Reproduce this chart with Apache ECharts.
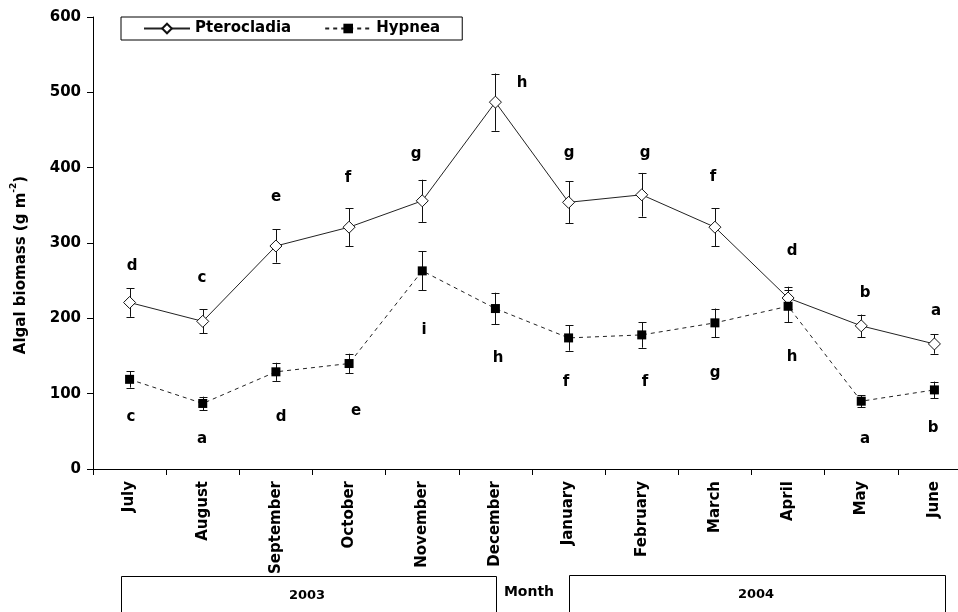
<!DOCTYPE html>
<html><head><meta charset="utf-8">
<script src="https://cdn.jsdelivr.net/npm/echarts@6/dist/echarts.min.js"></script>
<style>html,body{margin:0;padding:0;background:#fff;overflow:hidden;width:958px;height:612px}#c{width:980px;height:612px}</style>
</head><body><div id="c"></div>
<script>
const months = ['July','August','September','October','November','December','January','February','March','April','May','June'];
const pterocladia = [221,196,296,321,356,487,354,364,321,227,190,166];
const pterocladiaErr = [19,16,22,25,28,38,28,29,25,15,15,13];
const hypnea = [119,87,129,140,263,213,174,178,194,216,90,105];
const hypneaErr = [11,9,12,13,26,21,17,17,19,21,8,11];
const pteroLetters = ['d','c','e','f','g','h','g','g','f','d','b','a'];
const pteroLetterY = [270,254,361,386,418,512,420,420,387,289,233,210];
const pteroLetterX = [0.03,0.99,2.0,2.99,3.91,5.37,6.0,7.04,7.97,9.06,10.05,11.02];
const hypneaLetters = ['c','a','d','e','i','h','f','f','g','h','a','b'];
const hypneaLetterY = [69,40,69,77,185,148,115,115,127,149,40,54];
const hypneaLetterX = [0.02,0.99,2.07,3.09,4.03,5.03,5.97,7.05,8.0,9.06,10.05,10.98];
const years = ['2003','2004'];
const axisTitle = 'Algal biomass (g m{sup|-2})';
const monthTitle = 'Month';

const FONT = 'DejaVu Sans';
const INK = '#000';

function errSeries(vals, errs) {
  return {
    type: 'custom', xAxisIndex: 0, yAxisIndex: 0, z: 1, silent: true,
    data: vals.map((v, i) => [i, v - errs[i], v + errs[i]]),
    renderItem(params, api) {
      const lo = api.coord([api.value(0), api.value(1)]);
      const hi = api.coord([api.value(0), api.value(2)]);
      const x = Math.round(lo[0]) + 0.5, w = 4;
      const st = { stroke: '#111', lineWidth: 1 };
      return { type: 'group', children: [
        { type: 'line', shape: { x1: x, y1: lo[1], x2: x, y2: hi[1] }, style: st },
        { type: 'line', shape: { x1: x - w, y1: Math.round(lo[1]) + 0.5, x2: x + w, y2: Math.round(lo[1]) + 0.5 }, style: st },
        { type: 'line', shape: { x1: x - w, y1: Math.round(hi[1]) + 0.5, x2: x + w, y2: Math.round(hi[1]) + 0.5 }, style: st }
      ] };
    }
  };
}
function letterSeries(letters, xs, ys) {
  return {
    type: 'custom', xAxisIndex: 1, yAxisIndex: 0, silent: true, z: 5,
    data: letters.map((l, i) => [xs[i], ys[i], i]),
    renderItem(params, api) {
      const p = api.coord([api.value(0), api.value(1)]);
      return { type: 'text', x: Math.round(p[0]), y: Math.round(p[1]),
        style: { text: letters[api.value(2)], align: 'center', verticalAlign: 'middle',
          fontFamily: FONT, fontWeight: 'bold', fontSize: 15, fill: INK } };
    }
  };
}

const chart = echarts.init(document.getElementById('c'), null, { renderer: 'canvas' });
chart.setOption({
  animation: false,
  backgroundColor: '#fff',
  grid: { left: 93, top: 17, width: 878, height: 452, containLabel: false },
  legend: {
    data: ['Pterocladia', 'Hypnea'],
    left: 121, top: 17, padding: [4, 22, 4, 22], itemGap: 33, itemWidth: 46, itemHeight: 12,
    borderColor: INK, borderWidth: 1,
    textStyle: { fontFamily: FONT, fontWeight: 'bold', fontSize: 15, color: INK }
  },
  xAxis: [{
    type: 'category', data: months, boundaryGap: true,
    axisLine: { onZero: false, lineStyle: { color: INK, width: 1 } },
    axisTick: { show: true, length: 6, lineStyle: { color: INK } },
    axisLabel: { interval: 0, rotate: 90, margin: 12, fontFamily: FONT, fontWeight: 'bold', fontSize: 15, color: INK },
    splitLine: { show: false }
  }, {
    type: 'value', min: -0.5, max: 11.5, show: false
  }],
  yAxis: {
    type: 'value', min: 0, max: 600, interval: 100,
    axisLine: { show: true, onZero: false, lineStyle: { color: INK, width: 1 } },
    axisTick: { show: true, length: 6, lineStyle: { color: INK } },
    axisLabel: { margin: 12, fontFamily: FONT, fontWeight: 'bold', fontSize: 15, color: INK },
    splitLine: { show: false }
  },
  series: [
    errSeries(pterocladia, pterocladiaErr),
    errSeries(hypnea, hypneaErr),
    {
      name: 'Pterocladia', type: 'line', data: pterocladia, z: 3,
      symbol: 'diamond', symbolSize: 12, showSymbol: true,
      lineStyle: { color: '#222', width: 1, type: 'solid' },
      itemStyle: { color: '#fff', borderColor: '#111', borderWidth: 1 }
    },
    {
      name: 'Hypnea', type: 'line', data: hypnea, z: 3,
      symbol: 'rect', symbolSize: 9, showSymbol: true,
      lineStyle: { color: '#222', width: 1, type: [4, 4] },
      itemStyle: { color: '#000', borderColor: '#000', borderWidth: 0 }
    },
    letterSeries(pteroLetters, pteroLetterX, pteroLetterY),
    letterSeries(hypneaLetters, hypneaLetterX, hypneaLetterY)
  ],
  graphic: [
    { type: 'text', x: 21, y: 265, rotation: Math.PI / 2,
      style: { text: axisTitle, align: 'center', verticalAlign: 'middle', fontFamily: FONT, fontWeight: 'bold', fontSize: 15, lineHeight: 24, fill: INK,
        rich: { sup: { fontFamily: FONT, fontWeight: 'bold', fontSize: 9, lineHeight: 10, verticalAlign: 'top', fill: INK } } } },
    { type: 'rect', shape: { x: 121.5, y: 576.5, width: 375, height: 60 }, style: { fill: '#fff', stroke: INK, lineWidth: 1 } },
    { type: 'rect', shape: { x: 569.5, y: 575.5, width: 376, height: 60 }, style: { fill: '#fff', stroke: INK, lineWidth: 1 } },
    { type: 'text', x: 307, y: 596, style: { text: years[0], align: 'center', verticalAlign: 'middle', fontFamily: FONT, fontWeight: 'bold', fontSize: 13, fill: INK } },
    { type: 'text', x: 756, y: 595, style: { text: years[1], align: 'center', verticalAlign: 'middle', fontFamily: FONT, fontWeight: 'bold', fontSize: 13, fill: INK } },
    { type: 'text', x: 529, y: 592, style: { text: monthTitle, align: 'center', verticalAlign: 'middle', fontFamily: FONT, fontWeight: 'bold', fontSize: 14, fill: INK } }
  ]
});
</script>
</body></html>
